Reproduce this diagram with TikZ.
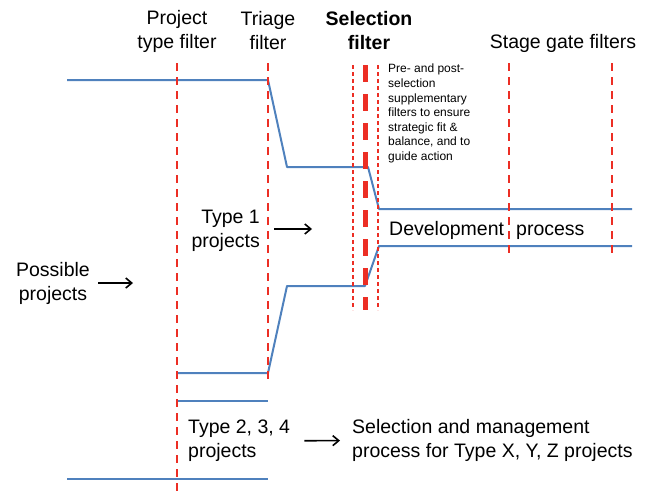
\documentclass[tikz,border=0pt]{standalone}
\usepackage{fontspec}
\setmainfont{Liberation Sans}
\usetikzlibrary{positioning,arrows.meta}
\definecolor{flowblue}{RGB}{79,129,189}
\definecolor{gatered}{RGB}{236,46,36}

\begin{document}
\begin{tikzpicture}[x=1pt,y=-1pt]
        \useasboundingbox (0,0) rectangle (647,495);
        \tikzset{
          flow/.style={draw=flowblue,line width=2pt,line join=round},
          gate/.style={draw=gatered,line width=2.5pt,dash pattern=on 8pt off 6pt},
          maingate/.style={draw=gatered,line width=5pt,dash pattern=on 17pt off 12pt},
          sidegate/.style={draw=gatered,line width=1.2pt,dash pattern=on 4pt off 3pt},
          arrow/.style={-{Straight Barb[length=6pt,width=10pt,line width=1.6pt]},line width=1.6pt}
        }
        % project streams
        \draw[flow] (67,80) -- (268,80) -- (287,167) -- (368,167) -- (379,209) -- (632,209);
        \draw[flow] (177,373) -- (268,373) -- (287,286) -- (365,286) -- (379,246) -- (632,246);
        \draw[flow] (178,401) -- (268,401);
        \draw[flow] (67,479) -- (268,479);
        % filters
        \draw[gate] (177,63) -- (177,495);
        \draw[gate] (268,63) -- (268,380);
        \draw[sidegate] (353,65) -- (353,310);
        \draw[maingate] (365,65) -- (365,310);
        \draw[sidegate] (378,65) -- (378,310);
        \draw[gate] (509,63) -- (509,258);
        \draw[gate] (612,63) -- (612,258);
        \begin{scope}[every node/.style={inner sep=0pt,font=\fontsize{19.5}{24}\selectfont}]
          \node[align=center] (typefilter) at (177,31) {Project\\type filter};
          \node[align=center] (triage) at (268,31) {Triage\\filter};
          \node[align=center,font=\fontsize{19.5}{24}\selectfont\bfseries] (selection) at (369,31) {Selection\\filter};
          \node (stagegate) at (563,43) {Stage gate filters};
          \node[anchor=north west,align=left,font=\fontsize{12}{14.6}\selectfont] (supplement) at (388,64)
            {Pre- and post-\\selection\\supplementary\\filters to ensure\\strategic fit \&\\balance, and to\\guide action};
          \node[anchor=base west] (devel) at (389,235) {Development};
          \node[anchor=base west] (process) at (516,235) {process};
          \node[align=right,anchor=east] (type1) at (260,231) {Type 1\\projects};
          \node[align=center] (possible) at (53,283) {Possible\\projects};
          \node[align=left,anchor=west] (type234) at (188,441) {Type 2, 3, 4\\projects};
          \node[align=left,anchor=west] (selmgmt) at (352,440) {Selection and management\\process for Type X, Y, Z projects};
          \coordinate (t1tip) at (312,229);
          \coordinate (possibletip) at (133,283);
        \end{scope}
        \begin{scope}[every edge/.style={draw=black,arrow}]
          \path (type1.east |- t1tip) edge [shorten <=14pt] (t1tip);
          \path (possible) edge [shorten <=8pt] (possibletip);
          \path (type234) edge [shorten <=14pt,shorten >=12pt] (selmgmt);
        \end{scope}
\end{tikzpicture}
\end{document}
